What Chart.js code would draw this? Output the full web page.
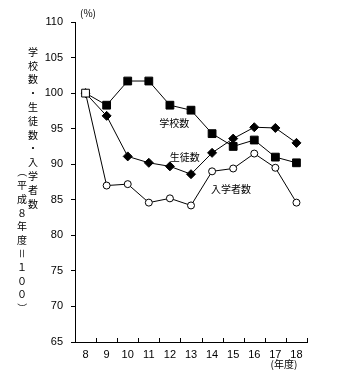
<!DOCTYPE html>
<html>
<head>
<meta charset="utf-8">
<script src="https://cdn.jsdelivr.net/npm/chart.js@4"></script>
<style>
  html, body { margin: 0; padding: 0; background: #fff; }
  #wrap { width: 343px; height: 379px; }
</style>
</head>
<body>
<div id="wrap"><canvas id="myChart" width="343" height="379"></canvas></div>
<script>
var nendo = ["8", "9", "10", "11", "12", "13", "14", "15", "16", "17", "18"];
var gakkousu = [100, 98.3, 101.7, 101.7, 98.3, 97.6, 94.3, 92.5, 93.4, 91.0, 90.2];
var seitosu = [100, 96.8, 91.1, 90.2, 89.7, 88.6, 91.6, 93.6, 95.2, 95.1, 93.0];
var nyugakusha = [100, 87.0, 87.2, 84.6, 85.2, 84.2, 89.0, 89.4, 91.5, 89.5, 84.6];
var yTicks = [65, 70, 75, 80, 85, 90, 95, 100, 105, 110];

var jpFont = '"Noto Sans CJK JP", sans-serif';
var numFont = '"Liberation Sans", Arial, sans-serif';

// series name labels, placed in data coordinates (category index, value)
var seriesLabels = [
  { text: '学校数', x: 4.2, y: 95.7 },
  { text: '生徒数', x: 4.7, y: 91.0 },
  { text: '入学者数', x: 6.9, y: 86.5 }
];

var col1 = '学校数・生徒数・入学者数';
var col2 = '（平成８年度＝１００）';

var extras = {
  id: 'extras',
  afterDraw: function (chart) {
    var ctx = chart.ctx;
    var xs = chart.scales.x, ys = chart.scales.y;
    var area = chart.chartArea;
    ctx.save();
    // inward ticks on the x axis, between categories
    ctx.strokeStyle = '#000';
    ctx.lineWidth = 1;
    ctx.beginPath();
    var step = (area.right - area.left) / nendo.length;
    for (var i = 0; i <= nendo.length; i++) {
      var px = Math.round(area.left + i * step) + 0.5;
      ctx.moveTo(px, area.bottom);
      ctx.lineTo(px, area.bottom - 4);
    }
    ctx.stroke();

    ctx.fillStyle = '#000';
    ctx.textAlign = 'center';
    ctx.textBaseline = 'middle';
    ctx.font = '10px ' + jpFont;
    seriesLabels.forEach(function (l) {
      ctx.fillText(l.text, xs.getPixelForValue(l.x), ys.getPixelForValue(l.y));
    });

    ctx.fillText('(%)', area.left + 13, 13);
    ctx.fillText('(年度)', area.right - 23, 364);

    // vertical axis title, two columns
    function column(str, cx, y0, dy) {
      for (var k = 0; k < str.length; k++) {
        var ch = str[k];
        var cy = y0 + k * dy;
        if ('（）＝'.indexOf(ch) >= 0) {
          ctx.save();
          ctx.translate(cx, cy);
          ctx.rotate(Math.PI / 2);
          ctx.fillText(ch, 0, 0);
          ctx.restore();
        } else {
          ctx.fillText(ch, cx, cy);
        }
      }
    }
    column(col1, 33, 52, 13.8);
    column(col2, 22, 172, 13.6);
    ctx.restore();
  }
};

var ctx = document.getElementById('myChart').getContext('2d');

var myChart = new Chart(ctx, {
  type: 'line',
  data: {
    labels: nendo,
    datasets: [
      {
        label: '学校数',
        data: gakkousu,
        borderColor: '#000',
        borderWidth: 1,
        pointStyle: 'rect',
        pointRadius: 5.5,
        pointBorderWidth: 1,
        pointBorderColor: '#000',
        pointBackgroundColor: gakkousu.map(function (v, i) { return i === 0 ? '#fff' : '#000'; })
      },
      {
        label: '生徒数',
        data: seitosu,
        borderColor: '#000',
        borderWidth: 1,
        pointStyle: 'rectRot',
        pointRadius: 4.5,
        pointBorderWidth: 1,
        pointBorderColor: '#000',
        pointBackgroundColor: '#000'
      },
      {
        label: '入学者数',
        data: nyugakusha,
        borderColor: '#000',
        borderWidth: 1,
        pointStyle: 'circle',
        pointRadius: 3.5,
        pointBorderWidth: 1,
        pointBorderColor: '#000',
        pointBackgroundColor: '#fff'
      }
    ]
  },
  options: {
    responsive: false,
    animation: false,
    layout: { padding: { left: 0, top: 22, right: 36, bottom: 0 } },
    plugins: {
      legend: { display: false },
      tooltip: { enabled: false }
    },
    scales: {
      x: {
        offset: true,
        grid: { display: false, drawTicks: false },
        border: { color: '#000', width: 1 },
        ticks: { color: '#000', padding: 6, font: { family: numFont, size: 11 }, maxRotation: 0 },
        afterFit: function (s) { s.height = 37; }
      },
      y: {
        min: 65,
        max: 110,
        afterBuildTicks: function (s) { s.ticks = yTicks.map(function (v) { return { value: v }; }); },
        grid: { drawOnChartArea: false, drawTicks: true, tickLength: 4, color: '#000' },
        border: { color: '#000', width: 1 },
        ticks: { color: '#000', padding: 8, font: { family: numFont, size: 11 } },
        afterFit: function (s) { s.width = 75; }
      }
    }
  },
  plugins: [extras]
});
</script>
</body>
</html>
